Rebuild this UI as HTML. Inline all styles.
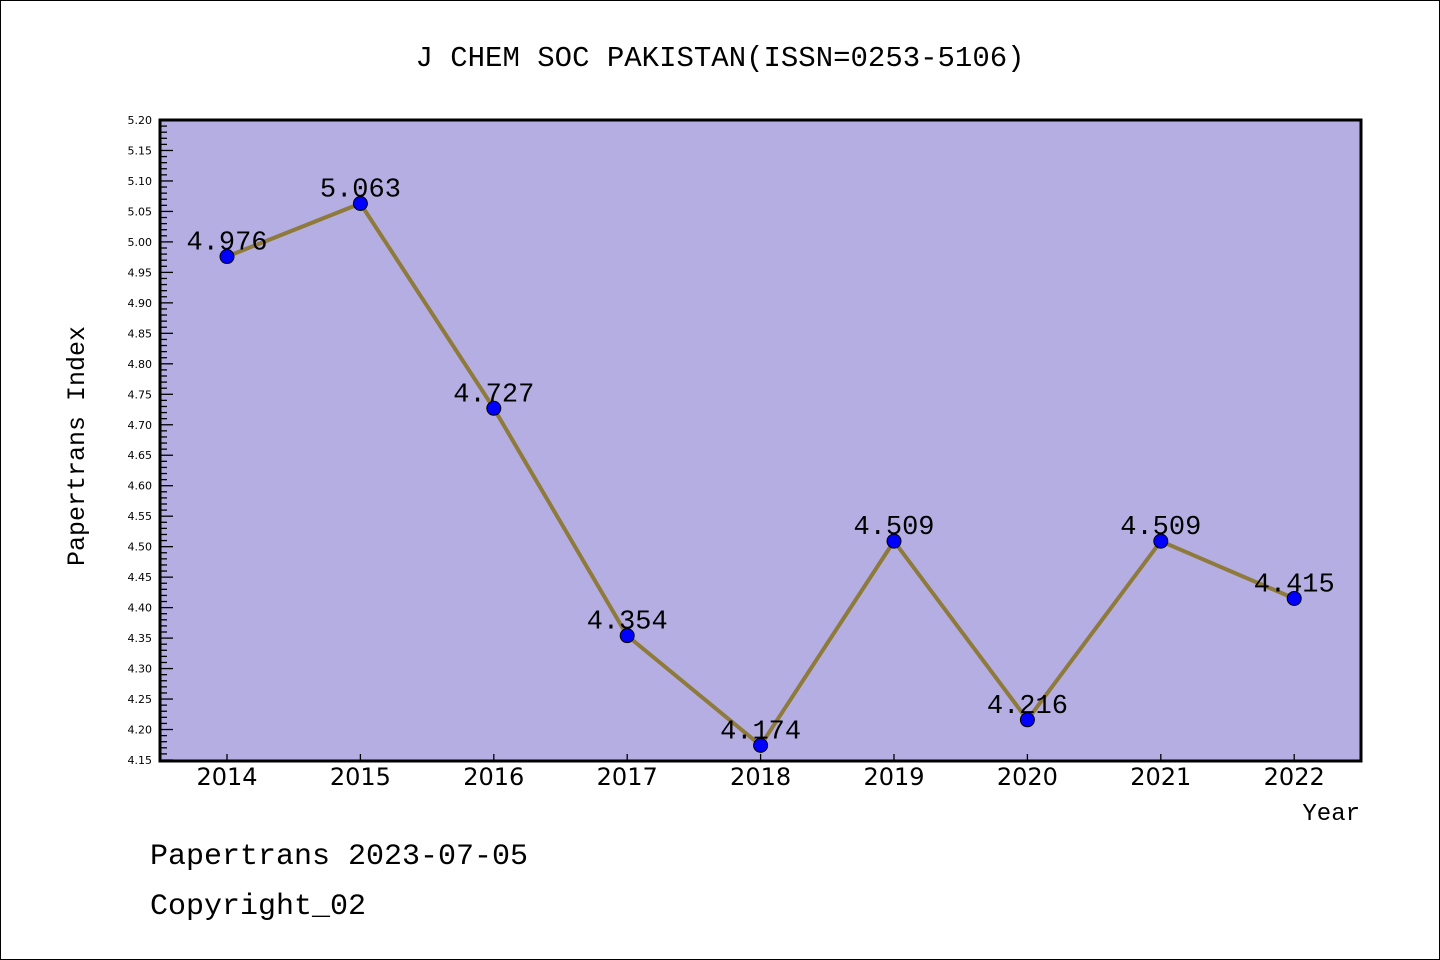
<!DOCTYPE html>
<html><head><meta charset="utf-8"><style>
body{margin:0;background:#fff}
svg{display:block;font-family:"Liberation Mono","Noto Sans CJK SC",monospace}
</style></head><body>
<svg id="chart" width="1440" height="960" xmlns="http://www.w3.org/2000/svg">
<rect x="0.5" y="0.5" width="1439" height="959" fill="#fff" stroke="#000"/>
<text x="720" y="66" text-anchor="middle" font-size="29">J CHEM SOC PAKISTAN(ISSN=0253-5106)</text>
<rect x="160" y="120" width="1201" height="641" fill="#b5aee2"/>
<g id="yaxis"></g>
<g id="xaxis"></g>
<g id="series"></g>
<rect x="160" y="120" width="1201" height="641" fill="none" stroke="#000" stroke-width="3"/>
<text transform="translate(84,446) rotate(-90)" text-anchor="middle" font-size="25">Papertrans Index</text>
<text x="1360" y="820" text-anchor="end" font-size="24">Year</text>
<text x="150" y="864" font-size="30">Papertrans 2023-07-05</text>
<text x="150" y="914" font-size="30">Copyright_02</text>
</svg>
<script>
const years=["2014","2015","2016","2017","2018","2019","2020","2021","2022"];
const values=[4.976,5.063,4.727,4.354,4.174,4.509,4.216,4.509,4.415];
const valueLabels=["4.976","5.063","4.727","4.354","4.174","4.509","4.216","4.509","4.415"];
const yTicks=["4.15","4.20","4.25","4.30","4.35","4.40","4.45","4.50","4.55","4.60","4.65","4.70","4.75","4.80","4.85","4.90","4.95","5.00","5.05","5.10","5.15","5.20"];
const NS="http://www.w3.org/2000/svg";
const yMin=4.15,yMax=5.20,plotTop=120,plotBot=760,plotLeft=160;
const yS=v=>plotBot-(v-yMin)/(yMax-yMin)*(plotBot-plotTop);
const xS=i=>227+i*133.4;
function mk(t,a,p){const e=document.createElementNS(NS,t);for(const k in a)e.setAttribute(k,a[k]);p.appendChild(e);return e;}
const ya=document.getElementById('yaxis');
for(let k=0;k<=105;k++){const v=yMin+k*0.01;const maj=k%5===0;
 const l=mk('line',{x1:plotLeft,x2:plotLeft+(maj?13:7),y1:yS(v),y2:yS(v),stroke:'#000','stroke-width':1.3},ya);
 
 }
yTicks.forEach(t=>{const e=mk('text',{x:152,y:yS(parseFloat(t))+4,'text-anchor':'end','font-size':11,'font-family':'DejaVu Sans, sans-serif'},ya);e.textContent=t;
 
 });
const xa=document.getElementById('xaxis');
years.forEach((yr,i)=>{const l=mk('line',{x1:xS(i),x2:xS(i),y1:761,y2:754,stroke:'#000','stroke-width':1.3},xa);
 
 
 const t=mk('text',{x:xS(i),y:785,'text-anchor':'middle','font-size':24,'font-family':'DejaVu Sans, sans-serif'},xa);t.textContent=yr;
 
 });
const s=document.getElementById('series');
const pl=mk('polyline',{points:values.map((v,i)=>xS(i)+','+yS(v)).join(' '),fill:'none',stroke:'#8e7a3a','stroke-width':4},s);


values.forEach((v,i)=>{const c=mk('circle',{cx:xS(i),cy:yS(v),r:7,fill:'#0000ff',stroke:'#000','stroke-width':1},s);
 
 
 const t=mk('text',{x:xS(i),y:yS(v)-7,'text-anchor':'middle','font-size':27},s);t.textContent=valueLabels[i];
 
 });
</script>
</body></html>
